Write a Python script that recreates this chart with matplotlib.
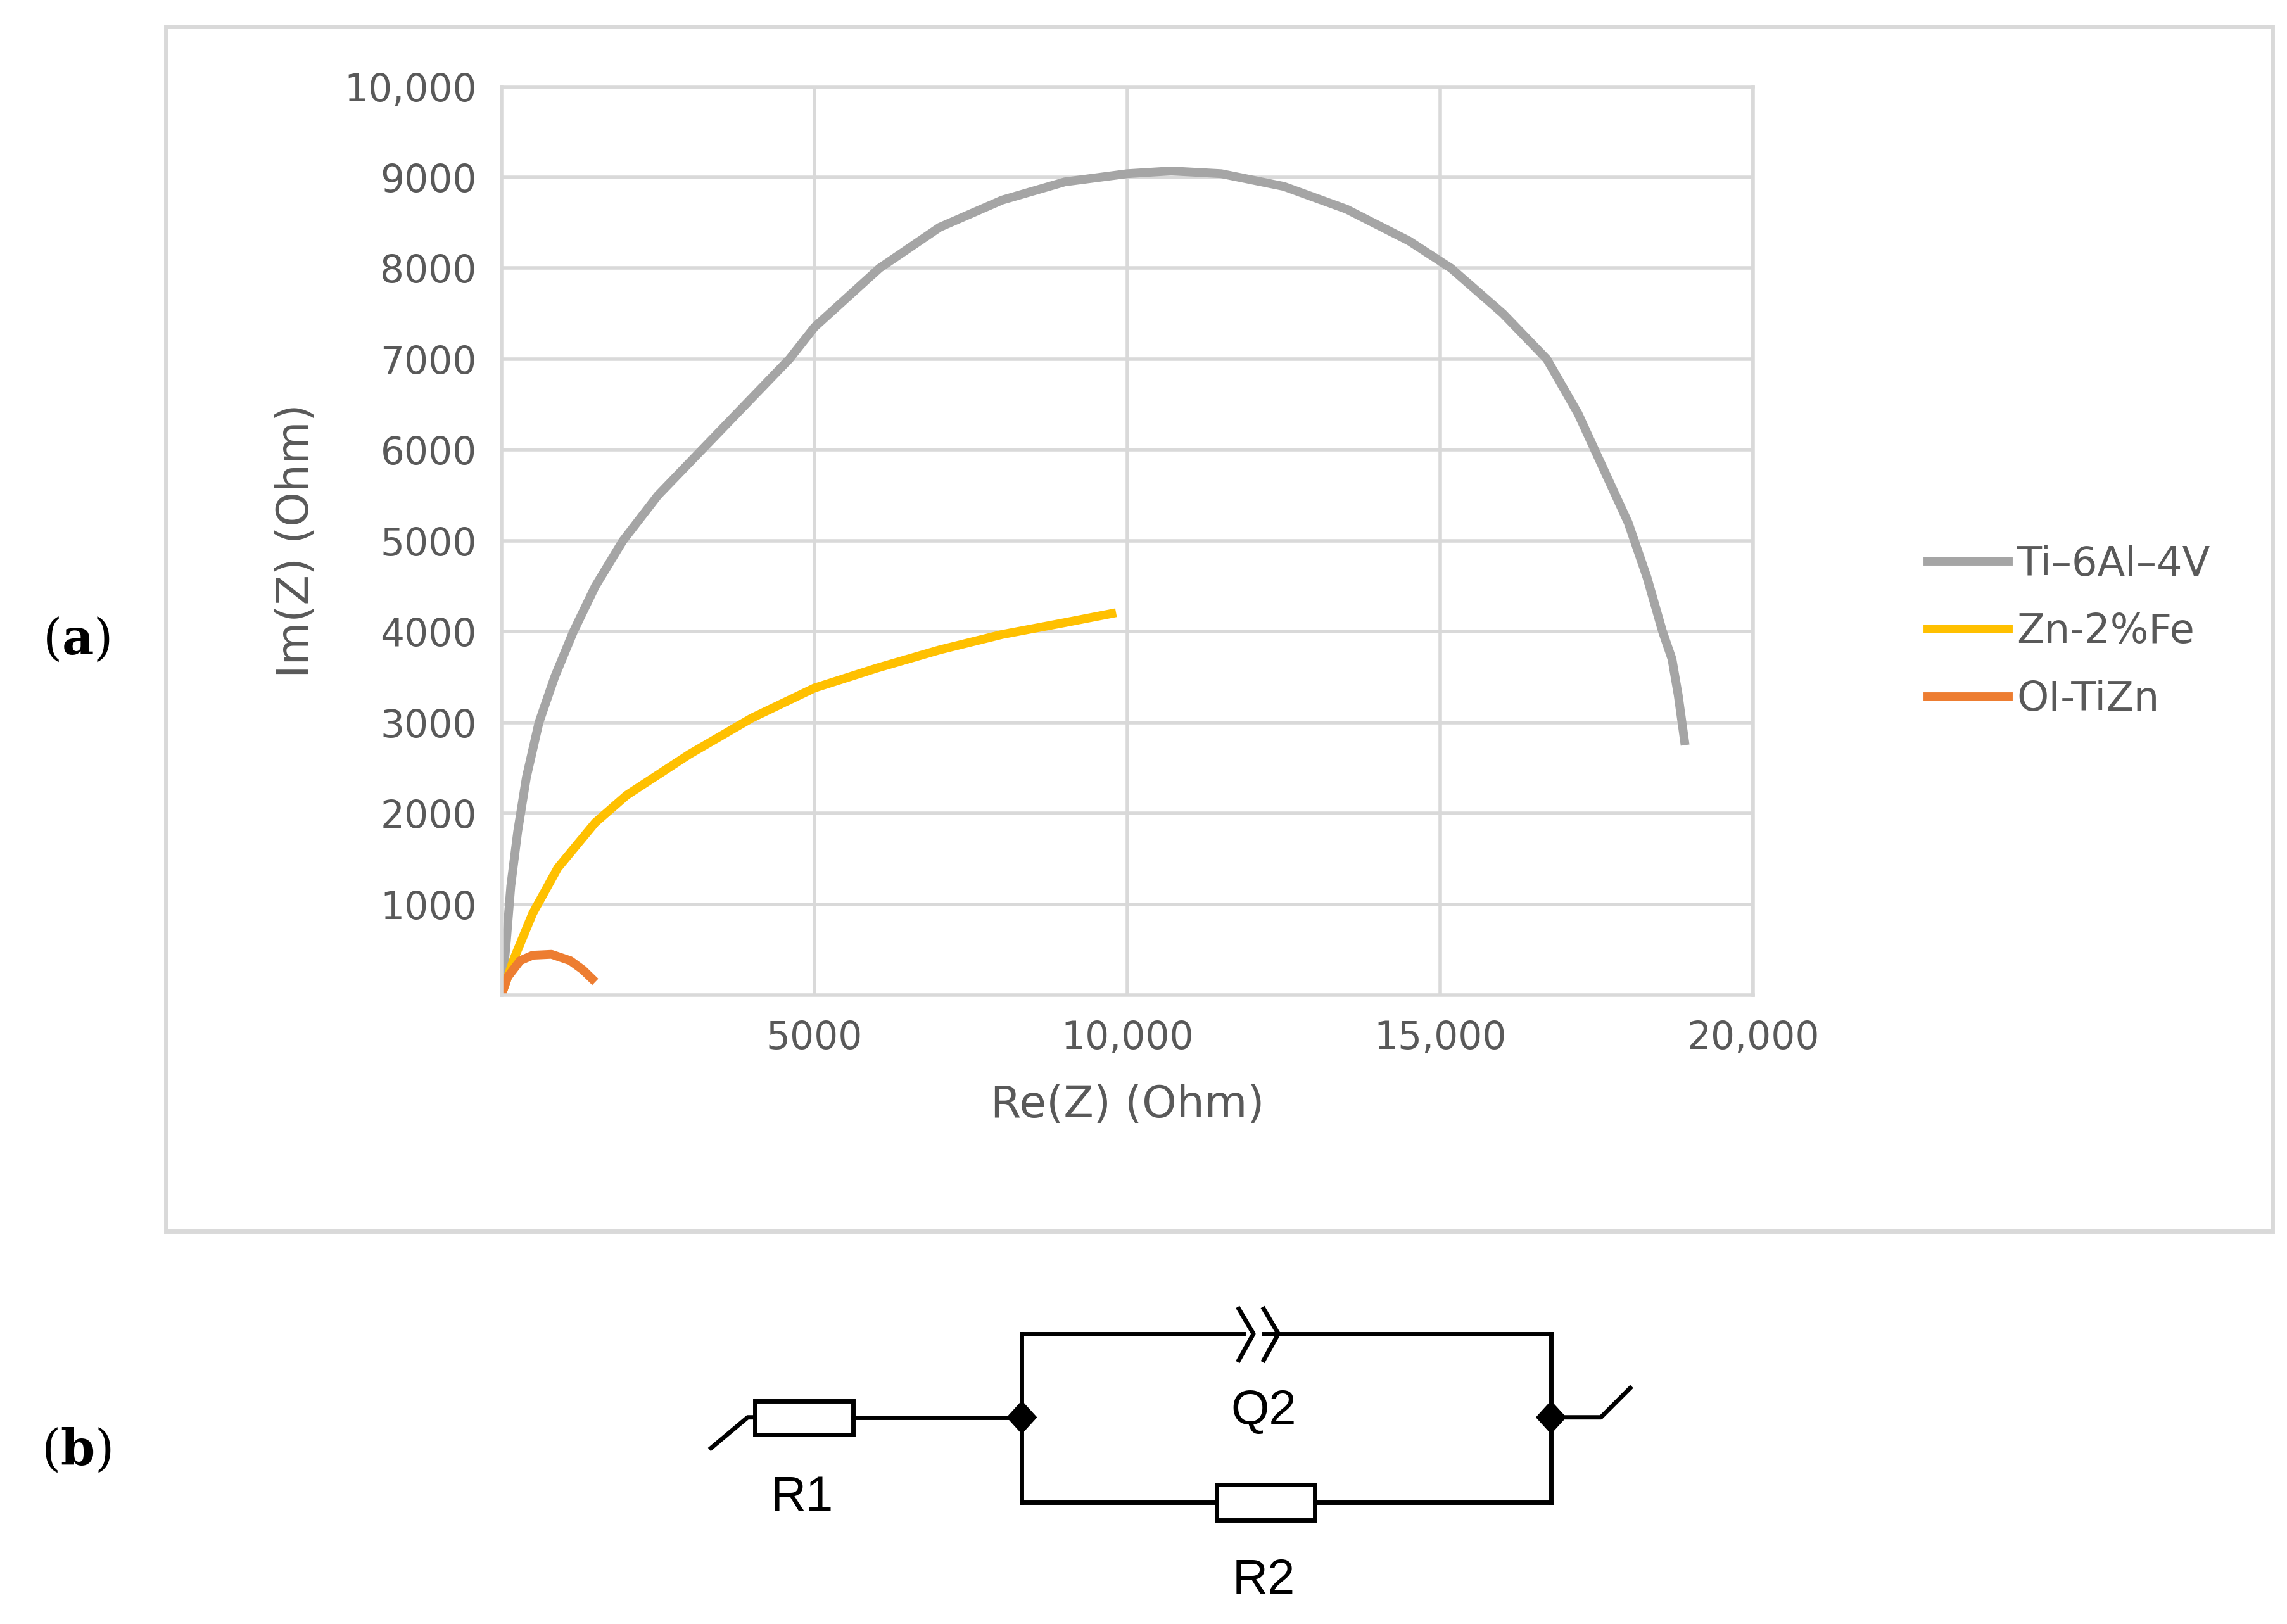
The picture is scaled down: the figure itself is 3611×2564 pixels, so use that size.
import numpy as np
import matplotlib.pyplot as plt
from matplotlib.patches import Rectangle, Polygon

plt.rcParams['mathtext.fontset'] = 'dejavuserif'

# Nyquist data
ti_re = [0, 80, 150, 260, 400, 600, 850, 1150, 1500, 1940, 2500, 3200, 3900, 4600, 5000, 6040, 7000, 8000,
         9000, 10000, 10700, 11500, 12500, 13500, 14500, 15170, 16000, 16700, 17200, 17600, 18000, 18300,
         18550, 18700, 18800, 18900]
ti_im = [0, 600, 1200, 1800, 2400, 3000, 3500, 4000, 4500, 5000, 5500, 6000, 6500, 7000, 7350, 8000, 8450, 8750,
         8950, 9040, 9070, 9040, 8900, 8650, 8300, 8000, 7500, 7000, 6400, 5800, 5200, 4600,
         4000, 3700, 3300, 2800]
zn_re = [0, 200, 500, 900, 1500, 2000, 3000, 4000, 5000, 6000, 7000, 8000, 9000, 9750]
zn_im = [0, 400, 900, 1400, 1900, 2200, 2650, 3050, 3380, 3600, 3800, 3970, 4100, 4200]
oi_re = [0, 100, 300, 500, 800, 1100, 1300, 1450]
oi_im = [0, 200, 380, 440, 450, 380, 280, 180]

W, H = 1560, 1108  # reference layout units
fig = plt.figure(figsize=(36.11, 25.64), dpi=100)

def fx(x): return x / W
def fy(y): return 1 - y / H

ax = fig.add_axes([fx(342), fy(679), fx(1196) - fx(342), fy(59) - fy(679)])
lw = 10
ax.plot(ti_re, ti_im, color='#a5a5a5', lw=lw, label='Ti\u20136Al\u20134V', solid_joinstyle='round')
ax.plot(zn_re, zn_im, color='#ffc000', lw=lw, label='Zn-2%Fe', solid_joinstyle='round')
ax.plot(oi_re, oi_im, color='#ed7d31', lw=lw, label='OI-TiZn', solid_joinstyle='round')
ax.set_xlim(0, 20000)
ax.set_ylim(0, 10000)
xt = [5000, 10000, 15000, 20000]
yt = list(range(1000, 11000, 1000))
lab = lambda v: f'{v:,}' if v >= 10000 else str(v)
ax.set_xticks(xt, [lab(v) for v in xt])
ax.set_yticks(yt, [lab(v) for v in yt])
ax.tick_params(length=0, labelsize=43, labelcolor='#595959', pad=28)
ax.grid(color='#d9d9d9', lw=4)
ax.set_axisbelow(True)
for s in ax.spines.values():
    s.set_color('#d9d9d9')
    s.set_linewidth(4)
ax.set_xlabel('Re(Z) (Ohm)', fontsize=50, color='#595959', labelpad=30)
ax.set_ylabel('Im(Z) (Ohm)', fontsize=50, color='#595959', labelpad=30)
aw = fx(1196) - fx(342)
ax.legend(loc='center left', bbox_to_anchor=((fx(1290) - fx(342)) / aw, 0.4),
          frameon=False, fontsize=46, labelcolor='#595959', handlelength=2.0, handletextpad=0.2, labelspacing=0.7)

# outer chart frame
fig.patches.append(Rectangle((fx(113), fy(840)), fx(1550) - fx(113), fy(18) - fy(840),
                             transform=fig.transFigure, fill=False, ec='#d9d9d9', lw=5))

fig.text(fx(52), fy(437), r'($\mathbf{a}$)', fontsize=56, family='DejaVu Serif', ha='center', va='center')
fig.text(fx(52), fy(990), r'($\mathbf{b}$)', fontsize=56, family='DejaVu Serif', ha='center', va='center')

# equivalent circuit
cx = fig.add_axes([0, 0, 1, 1], zorder=-1)
cx.set_xlim(0, W)
cx.set_ylim(H, 0)
cx.axis('off')
k = dict(color='black', lw=5)
cx.plot([485, 510, 515], [988, 967, 967], **k)
cx.add_patch(Rectangle((515, 956), 67, 23, fill=False, ec='black', lw=5))
cx.plot([582, 697], [967, 967], **k)
cx.plot([697, 697], [910, 1025], **k)
cx.plot([1058, 1058], [910, 1025], **k)
cx.plot([697, 848], [910, 910], **k)
cx.plot([862, 1058], [910, 910], **k)
cx.plot([845, 855, 845], [893, 910, 928], **k)
cx.plot([862, 872, 862], [893, 910, 928], **k)
cx.plot([697, 830], [1025, 1025], **k)
cx.add_patch(Rectangle((830, 1013), 67, 24, fill=False, ec='black', lw=5))
cx.plot([897, 1058], [1025, 1025], **k)
cx.plot([1058, 1092, 1112], [967, 967, 947], **k)
for nx in (697, 1058):
    cx.add_patch(Polygon([(nx - 10, 967), (nx, 956), (nx + 10, 967), (nx, 978)], color='black'))
for t, x, y in [('R1', 547, 1022), ('Q2', 862, 963), ('R2', 862, 1078)]:
    cx.text(x, y, t, fontsize=56, ha='center', va='center', family='Liberation Sans')

fig.savefig('out.png', dpi=100)
